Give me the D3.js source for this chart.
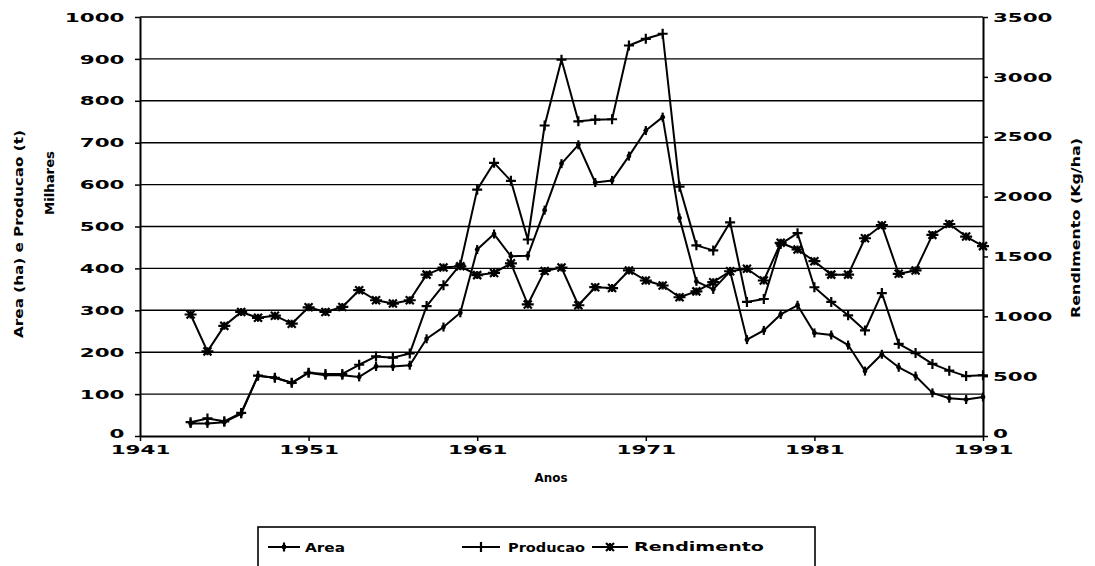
<!DOCTYPE html>
<html>
<head>
<meta charset="utf-8">
<script src="https://cdn.jsdelivr.net/npm/d3@7"></script>
<style>
  body { margin: 0; background: #fff; }
  text { font-family: "DejaVu Sans", sans-serif; font-weight: bold; fill: #000; }
</style>
</head>
<body>
<svg id="chart" width="1095" height="566"></svg>
<script>
// values (area in thousand ha, producao in thousand t, rendimento in kg/ha)
const years = [1944, 1945, 1946, 1947, 1948, 1949, 1950, 1951, 1952, 1953, 1954, 1955,
    1956, 1957, 1958, 1959, 1960, 1961, 1962, 1963, 1964, 1965, 1966, 1967,
    1968, 1969, 1970, 1971, 1972, 1973, 1974, 1975, 1976, 1977, 1978, 1979,
    1980, 1981, 1982, 1983, 1984, 1985, 1986, 1987, 1988, 1989, 1990, 1991];
const area = [30, 30, 33, 53, 144, 139, 127, 151, 145, 145, 141, 166,
    166, 169, 232, 260, 294, 445, 482, 429, 430, 539, 650, 695,
    605, 610, 668, 729, 761, 520, 369, 350, 393, 230, 252, 290,
    312, 246, 241, 217, 155, 195, 164, 143, 103, 90, 87, 93];
const producao = [33, 42, 35, 55, 144, 139, 127, 151, 148, 148, 170, 190,
    187, 197, 310, 360, 409, 588, 652, 609, 469, 741, 898, 751,
    755, 756, 932, 948, 960, 595, 455, 443, 510, 320, 327, 458,
    484, 355, 320, 288, 252, 341, 220, 198, 172, 156, 143, 145];
const rendimento = [1015, 707, 920, 1036, 987, 1005, 938, 1075, 1036, 1078, 1218, 1134,
    1106, 1134, 1348, 1407, 1418, 1344, 1362, 1442, 1099, 1379, 1407, 1092,
    1243, 1236, 1383, 1299, 1257, 1159, 1208, 1285, 1376, 1397, 1299, 1614,
    1558, 1460, 1348, 1348, 1652, 1761, 1355, 1383, 1680, 1771, 1666, 1586];

const leftTicks = [0, 100, 200, 300, 400, 500, 600, 700, 800, 900, 1000];
const rightTicks = [0, 500, 1000, 1500, 2000, 2500, 3000, 3500];
const xTicks = [1941, 1951, 1961, 1971, 1981, 1991];

const svg = d3.select('#chart');

const x = d3.scaleLinear().domain([1941, 1991]).range([140, 983]);
const yL = d3.scaleLinear().domain([0, 1000]).range([436, 17]);
const yR = d3.scaleLinear().domain([0, 3500]).range([436, 17]);

const wide = 1.65; // the original font is very wide
const fmt = d3.format('d');

// gridlines
svg.append('g')
    .selectAll('line')
    .data(leftTicks.slice(1))
    .join('line')
    .attr('x1', x(1941)).attr('x2', x(1991))
    .attr('y1', d => yL(d)).attr('y2', d => yL(d))
    .attr('stroke', '#000').attr('stroke-width', 1.4);

function styleAxis(g) {
    g.select('.domain').attr('stroke-width', 2);
    g.selectAll('.tick line').attr('stroke-width', 1.5);
    g.selectAll('text')
        .attr('font-size', 13)
        .attr('font-family', '"DejaVu Sans", sans-serif')
        .attr('font-weight', 'bold')
        .attr('transform', `scale(${wide},1)`);
}

const left = svg.append('g')
    .attr('transform', `translate(${x(1941)},0)`)
    .call(d3.axisLeft(yL).tickValues(leftTicks).tickFormat(fmt)
        .tickSize(5).tickSizeOuter(0).tickPadding(4.4));
styleAxis(left);
// keep the 0 label clear of the year labels below it
left.selectAll('text').filter(d => d === 0).attr('dy', '0.1em');

const right = svg.append('g')
    .attr('transform', `translate(${x(1991)},0)`)
    .call(d3.axisRight(yR).tickValues(rightTicks).tickFormat(fmt)
        .tickSize(5).tickSizeOuter(0).tickPadding(1));
styleAxis(right);
right.selectAll('text').filter(d => d === 0).attr('dy', '0.1em');

const bottom = svg.append('g')
    .attr('transform', `translate(0,${yL(0)})`)
    .call(d3.axisBottom(x).tickValues(xTicks).tickFormat(fmt)
        .tickSize(5).tickSizeOuter(0).tickPadding(3.5));
styleAxis(bottom);

// markers
const markers = {
    area: 'M0,-4.5V4.5',
    producao: 'M-5,0H5M0,-5V5',
    rendimento: 'M-6,0H6M-4,-4L4,4M-4,4L4,-4M0,-4V4'
};

function drawSeries(values, yScale, key) {
    const pts = years.map((yr, i) => [x(yr), yScale(values[i])]);
    const g = svg.append('g');
    g.append('path')
        .attr('d', d3.line()(pts))
        .attr('fill', 'none')
        .attr('stroke', '#000')
        .attr('stroke-width', 2)
        .attr('stroke-linejoin', 'round');
    g.selectAll('path.m')
        .data(pts)
        .join('path')
        .attr('class', 'm')
        .attr('transform', d => `translate(${d[0]},${d[1]})`)
        .attr('d', markers[key])
        .attr('fill', 'none')
        .attr('stroke', '#000')
        .attr('stroke-width', 2.2);
    if (key === 'area') {
        g.selectAll('circle')
            .data(pts)
            .join('circle')
            .attr('cx', d => d[0]).attr('cy', d => d[1])
            .attr('r', 2.4)
            .attr('fill', '#000');
    }
}

drawSeries(area, yL, 'area');
drawSeries(producao, yL, 'producao');
drawSeries(rendimento, yR, 'rendimento');

// text stretched to a given length
function fitText(sel, len) {
    const w = sel.node().getComputedTextLength();
    return len / w;
}

function label(str, cx, cy, size, len, rot) {
    const t = svg.append('text')
        .attr('font-size', size)
        .attr('text-anchor', 'middle')
        .attr('dominant-baseline', 'central')
        .text(str);
    const s = fitText(t, len);
    t.attr('transform', `translate(${cx},${cy}) rotate(${rot || 0}) scale(${s},1)`);
    return t;
}

label('Area (ha) e Producao (t)', 19, 234, 12, 208, -90);
label('Milhares', 50, 183, 12, 64, -90);
label('Rendimento (Kg/ha)', 1076, 228, 12, 180, -90);
label('Anos', 551, 478, 12, 33);

// legend
svg.append('rect')
    .attr('x', 258).attr('y', 527)
    .attr('width', 557).attr('height', 60)
    .attr('fill', 'none')
    .attr('stroke', '#000')
    .attr('stroke-width', 1.6);

const legendItems = [
    { key: 'area', name: 'Area', x0: 268, x1: 300, tx: 305, tw: 40 },
    { key: 'producao', name: 'Producao', x0: 462, x1: 500, tx: 508, tw: 77 },
    { key: 'rendimento', name: 'Rendimento', x0: 592, x1: 628, tx: 634, tw: 130 }
];
const ly = 547;
legendItems.forEach(it => {
    const g = svg.append('g');
    g.append('line')
        .attr('x1', it.x0).attr('x2', it.x1)
        .attr('y1', ly).attr('y2', ly)
        .attr('stroke', '#000').attr('stroke-width', 2);
    const mx = (it.x0 + it.x1) / 2;
    g.append('path')
        .attr('transform', `translate(${mx},${ly})`)
        .attr('d', markers[it.key])
        .attr('fill', 'none').attr('stroke', '#000').attr('stroke-width', 2.2);
    if (it.key === 'area') {
        g.append('circle').attr('cx', mx).attr('cy', ly).attr('r', 2.4).attr('fill', '#000');
    }
    const t = g.append('text')
        .attr('font-size', 13)
        .attr('dominant-baseline', 'central')
        .text(it.name);
    const s = fitText(t, it.tw);
    t.attr('transform', `translate(${it.tx},${ly}) scale(${s},1)`);
});
</script>
</body>
</html>
